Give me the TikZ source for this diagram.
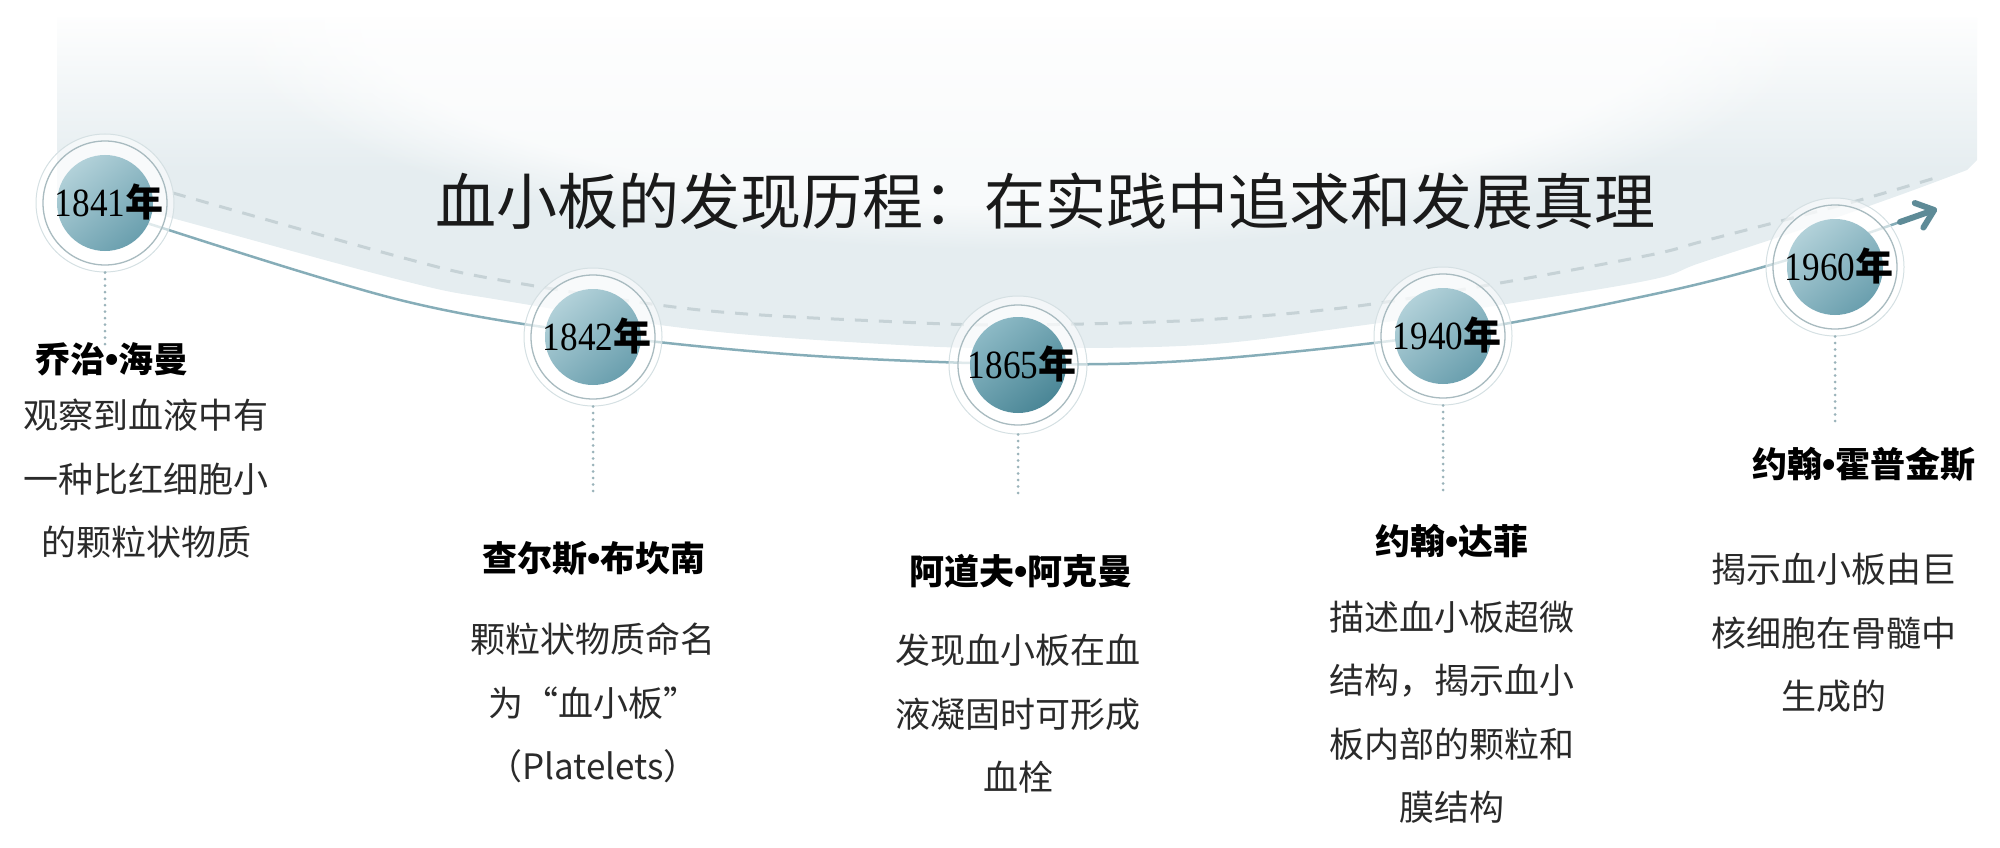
\documentclass[tikz,border=0pt]{standalone}
\usepackage{fontspec}
\usetikzlibrary{arrows.meta,fadings}
\newfontfamily\cjk{Noto Sans CJK SC}
\newfontfamily\latinsans{Liberation Sans}
\newfontfamily\yearfont[FakeStretch=0.88]{Liberation Serif}
\newcommand\nianchar{{\cjk\bfseries\fontsize{38}{38}\selectfont 年}}
\newcommand\namedot{{\latinsans\bfseries\fontsize{38}{38}\selectfont •}}
\definecolor{bgband}{HTML}{E5EDF0}
\definecolor{discA}{HTML}{B2D1D9}
\definecolor{discB}{HTML}{6A9FAE}
\definecolor{discC}{HTML}{8CB9C5}
\definecolor{discD}{HTML}{4A8696}
\definecolor{ringin}{HTML}{A9BBC0}
\definecolor{ringout}{HTML}{D5E0E3}
\definecolor{solidc}{HTML}{86ADB8}
\definecolor{dashc}{HTML}{C6D2D6}
\definecolor{dotc}{HTML}{9AB3BA}
\definecolor{arrowc}{HTML}{5E8B97}
\definecolor{bodyc}{HTML}{2A2A2A}
\definecolor{titlec}{HTML}{1A1A1A}
\begin{document}
\begin{tikzpicture}[x=1pt,y=-1pt,
  halo/.style={circle, minimum size=138pt, inner sep=0pt, draw=ringout, line width=1pt, fill=white, fill opacity=0.55},
  innerring/.style={draw=ringin, line width=1.3pt, fill=white, fill opacity=0.45},
  disc/.style={circle, minimum size=96pt, inner sep=0pt, top color=discA, bottom color=discB, shading angle=40},
  discdark/.style={circle, minimum size=96pt, inner sep=0pt, top color=discC, bottom color=discD, shading angle=40},
  yearlbl/.style={anchor=base, inner sep=0pt, font=\yearfont\fontsize{40}{40}\selectfont, text=black},
  namelbl/.style={inner sep=0pt, font=\cjk\bfseries\fontsize{35}{35}\selectfont, text=black},
  bodylbl/.style={inner sep=0pt, align=center, font=\cjk\fontsize{35}{63.5}\selectfont, text=bodyc},
  titlelbl/.style={inner sep=0pt, font=\cjk\fontsize{61}{61}\selectfont, text=titlec},
  solidline/.style={draw=solidc, line width=2.5pt},
  dashline/.style={draw=dashc, line width=3pt, dash pattern=on 13pt off 11pt},
  dotline/.style={draw=dotc, line width=3pt, line cap=round, dash pattern=on 0pt off 6.5pt},
  arrowline/.style={draw=arrowc, line width=6pt, line cap=round, -{Straight Barb[length=16pt,width=26pt,round]}},
]
\useasboundingbox (0,0) rectangle (2000,848);
% background band
\fill[bgband] (57,18) -- (1977,18) -- (1977,160) -- plot[smooth, tension=0.6] coordinates {(1967,170) (1900,195) (1800,230) (1700,263) (1650,280) (1500,305) (1350,327) (1200,345) (1018,348) (900,345) (700,330) (500,300) (400,280) (153,213) (57,190)} -- cycle;
\fill[white, path fading=south] (50,10) rectangle (1985,175);
\fill[white, fill opacity=0.75, path fading=circle with fuzzy edge 20 percent] (1020,20) ellipse[x radius=800, y radius=230];
% title
\node[titlelbl] (title) at (1045,201) {血小板的发现历程：在实践中追求和发展真理};
% curves
\draw[dashline] plot[smooth, tension=0.55] coordinates {(173,193) (400,257) (500,280) (700,310) (900,322) (1018,325) (1200,320) (1350,307) (1500,283) (1650,255) (1700,242) (1777,222) (1860,200) (1935,178)};
\draw[solidline] plot[smooth, tension=0.55] coordinates {(120,211) (153,225) (400,300) (593,334) (800,355) (1018,364) (1200,360) (1443,334) (1650,295) (1777,263) (1900,222)};
\coordinate (arrS) at (1900,222);
\coordinate (arrE) at (1937,209);
\draw[arrowline] (arrS) -- (arrE);
% milestones
\node[halo] (h1) at (105,203) {};
\draw[innerring] (h1.center) circle[radius=62];
\node[disc] (c1) at (h1.center) {};
\node[yearlbl] (y1) at (109,216.5) {1841\nianchar};

\node[halo] (h2) at (593,337) {};
\draw[innerring] (h2.center) circle[radius=62];
\node[disc] (c2) at (h2.center) {};
\node[yearlbl] (y2) at (597,350.5) {1842\nianchar};

\node[halo] (h3) at (1018,365) {};
\draw[innerring] (h3.center) circle[radius=60];
\node[discdark] (c3) at (h3.center) {};
\node[yearlbl] (y3) at (1022,378.5) {1865\nianchar};

\node[halo] (h4) at (1443,336) {};
\draw[innerring] (h4.center) circle[radius=62];
\node[disc] (c4) at (h4.center) {};
\node[yearlbl] (y4) at (1447,349.5) {1940\nianchar};

\node[halo] (h5) at (1835,267) {};
\draw[innerring] (h5.center) circle[radius=62];
\node[disc] (c5) at (h5.center) {};
\node[yearlbl] (y5) at (1839,280.5) {1960\nianchar};
% dotted leaders
\coordinate (e1) at (105,345);
\coordinate (e2) at (593,493);
\coordinate (e3) at (1018,495);
\coordinate (e4) at (1443,491);
\coordinate (e5) at (1835,423);
\draw[dotline] (h1.south) -- (e1);
\draw[dotline] (h2.south) -- (e2);
\draw[dotline] (h3.south) -- (e3);
\draw[dotline] (h4.south) -- (e4);
\draw[dotline] (h5.south) -- (e5);
% texts
\node[namelbl] (n1) at (112,359) {乔治\namedot 海曼};
\node[bodylbl] (b1) at (146,479) {观察到血液中有\\一种比红细胞小\\的颗粒状物质};
\node[namelbl] (n2) at (594,559) {查尔斯\namedot 布坎南};
\node[bodylbl] (b2) at (593,703) {颗粒状物质命名\\为“血小板”\\（Platelets）};
\node[namelbl] (n3) at (1021,571) {阿道夫\namedot 阿克曼};
\node[bodylbl] (b3) at (1018,714) {发现血小板在血\\液凝固时可形成\\血栓};
\node[namelbl] (n4) at (1452,541) {约翰\namedot 达菲};
\node[bodylbl] (b4) at (1452,712) {描述血小板超微\\结构，揭示血小\\板内部的颗粒和\\膜结构};
\node[namelbl] (n5) at (1864,464) {约翰\namedot 霍普金斯};
\node[bodylbl] (b5) at (1834,633) {揭示血小板由巨\\核细胞在骨髓中\\生成的};
\end{tikzpicture}
\end{document}
